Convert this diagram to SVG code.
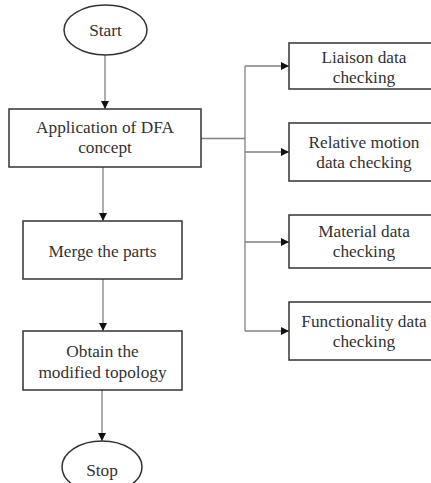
<svg xmlns="http://www.w3.org/2000/svg" width="431" height="483" viewBox="0 0 431 483">
  <defs>
    <style>
      .box { fill: #fff; stroke: #333; stroke-width: 1.5; }
      .lbl { font-family: "Liberation Serif", "Times New Roman", serif; font-size: 17.3px; fill: #333; text-anchor: middle; }
      .conn { fill: none; stroke: #808080; stroke-width: 1.3; }
    </style>
    <marker id="arrow" viewBox="0 0 10 10" refX="10" refY="5" markerWidth="8" markerHeight="8" markerUnits="userSpaceOnUse" orient="auto">
      <path d="M0,0 L10,5 L0,10 z" fill="#111"/>
    </marker>
  </defs>
  <rect width="431" height="483" fill="#fff"/>

  <!-- flow connectors -->
  <g id="connectors">
    <path class="conn" d="M105,55 V109" marker-end="url(#arrow)"/>
    <path class="conn" d="M103,167 V221" marker-end="url(#arrow)"/>
    <path class="conn" d="M103,279 V331" marker-end="url(#arrow)"/>
    <path class="conn" d="M102,390 V441" marker-end="url(#arrow)"/>
    <path class="conn" d="M201,138.5 H245"/>
    <path class="conn" d="M245,66 V331"/>
    <path class="conn" d="M245,66 H289" marker-end="url(#arrow)"/>
    <path class="conn" d="M245,152 H289" marker-end="url(#arrow)"/>
    <path class="conn" d="M245,242 H289" marker-end="url(#arrow)"/>
    <path class="conn" d="M245,331 H289" marker-end="url(#arrow)"/>
  </g>

  <g id="start">
    <ellipse class="box" cx="105.5" cy="30" rx="41.5" ry="25"/>
    <text class="lbl" x="105.5" y="36">Start</text>
  </g>

  <g id="dfa">
    <rect class="box" x="9" y="109" width="192" height="58"/>
    <text class="lbl" x="105" y="133">Application of DFA</text>
    <text class="lbl" x="105" y="153">concept</text>
  </g>

  <g id="merge">
    <rect class="box" x="23" y="221" width="159" height="58"/>
    <text class="lbl" x="102.5" y="257">Merge the parts</text>
  </g>

  <g id="topology">
    <rect class="box" x="23" y="331" width="159" height="59"/>
    <text class="lbl" x="102.5" y="357">Obtain the</text>
    <text class="lbl" x="102.5" y="378">modified topology</text>
  </g>

  <g id="stop">
    <ellipse class="box" cx="102" cy="467" rx="40" ry="26"/>
    <text class="lbl" x="102" y="476">Stop</text>
  </g>

  <g id="liaison">
    <rect class="box" x="289" y="43" width="160" height="46"/>
    <text class="lbl" x="364" y="63">Liaison data</text>
    <text class="lbl" x="364" y="83">checking</text>
  </g>

  <g id="motion">
    <rect class="box" x="289" y="123" width="160" height="58"/>
    <text class="lbl" x="364" y="148">Relative motion</text>
    <text class="lbl" x="364" y="168">data checking</text>
  </g>

  <g id="material">
    <rect class="box" x="289" y="215" width="160" height="53"/>
    <text class="lbl" x="364" y="237">Material data</text>
    <text class="lbl" x="364" y="257">checking</text>
  </g>

  <g id="functionality">
    <rect class="box" x="289" y="302" width="160" height="58"/>
    <text class="lbl" x="364" y="327">Functionality data</text>
    <text class="lbl" x="364" y="347">checking</text>
  </g>
</svg>
